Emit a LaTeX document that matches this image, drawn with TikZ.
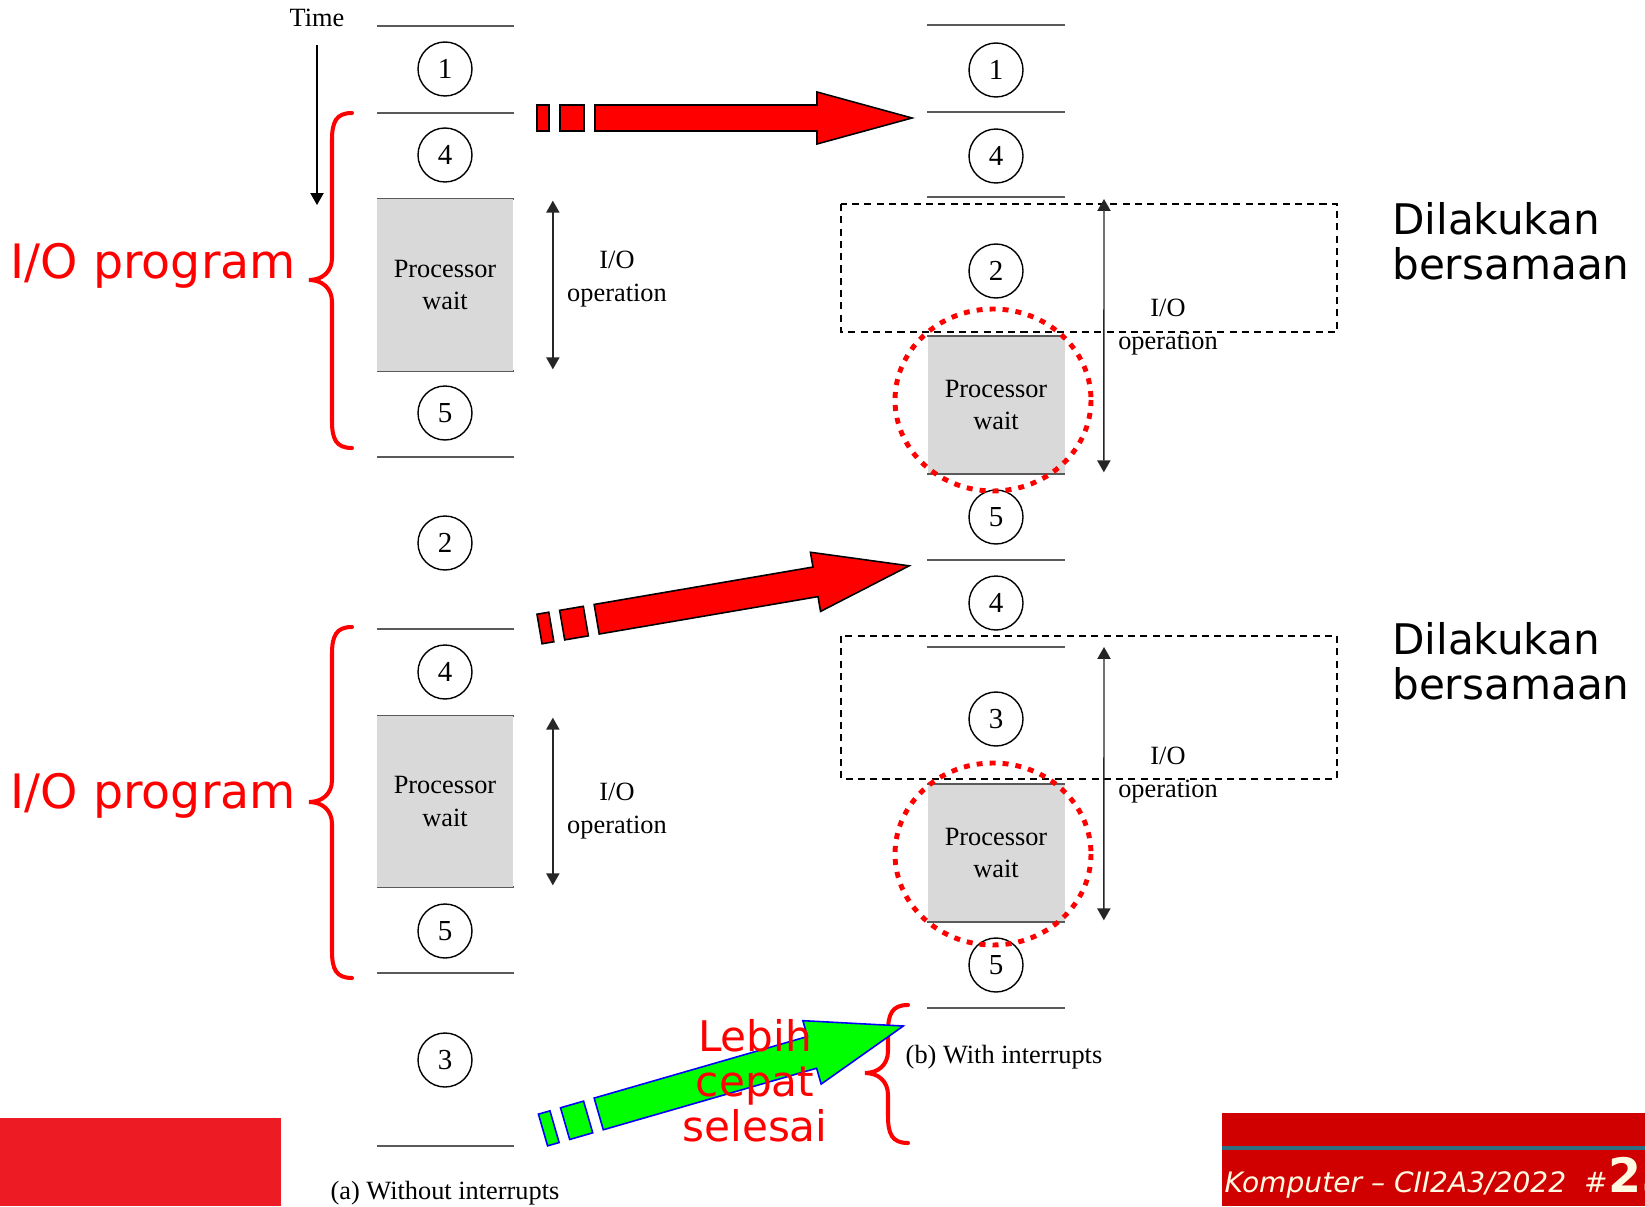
\documentclass[tikz,border=0pt]{standalone}
\usepackage{fontspec}
\setmainfont{Liberation Serif}
\newfontfamily\handfont{DejaVu Sans}
\newfontfamily\footfont{DejaVu Sans}
\usetikzlibrary{positioning,arrows.meta,calc}
\definecolor{slred}{RGB}{255,0,0}
\definecolor{slgreen}{RGB}{0,255,0}
\definecolor{slblue}{RGB}{0,0,255}
\definecolor{slgray}{RGB}{217,217,217}
\definecolor{slline}{RGB}{90,90,90}
\definecolor{ftred}{RGB}{237,28,36}
\definecolor{ftdark}{RGB}{208,0,0}
\definecolor{ftteal}{RGB}{47,110,128}
\definecolor{ftcream}{RGB}{255,250,225}
\tikzset{
  num/.style={draw, circle, minimum size=1.08cm, inner sep=0pt, line width=0.8pt, font=\fontsize{16.5}{16.5}\selectfont},
  seg/.style={draw=slline, line width=1.3pt},
  pwbox/.style={fill=slgray, minimum width=2.74cm, align=center, inner sep=0pt, font=\fontsize{15}{18.5}\selectfont},
  iolab/.style={align=center, font=\fontsize{15}{19}\selectfont},
  ioarrow/.style={{Triangle[length=6.8pt,width=7.5pt]}-{Triangle[length=6.8pt,width=7.5pt]}, line width=0.8pt, draw=black!85},
  dashbox/.style={draw, dash pattern=on 4pt off 3pt, line width=0.8pt},
  ring/.style={draw=slred, line width=2.8pt, dash pattern=on 3.4pt off 4pt},
  brace/.style={draw=slred, line width=2.3pt, line cap=round},
  hand/.style={anchor=east, text=slred, font=\handfont\fontsize{27}{30}\selectfont},
  note/.style={align=left, anchor=west, font=\handfont\fontsize{24}{25.6}\selectfont}
}
% block arrow: start, angle, half body height, fill, border
\newcommand{\blockarrow}[5]{%
  \begin{scope}[shift={#1}, rotate=#2]
    \filldraw[fill=#4, draw=#5, line width=0.9pt] (0,-#3) rectangle (12,#3);
    \filldraw[fill=#4, draw=#5, line width=0.9pt] (23,-#3) rectangle (47,#3);
    \filldraw[fill=#4, draw=#5, line width=0.9pt] (58,-#3) -- (280,-#3) -- (280,{-2*#3}) -- (375,0)
      -- (280,{2*#3}) -- (280,#3) -- (58,#3) -- cycle;
  \end{scope}}
% red brace: end x, top y, middle y, bottom y
\newcommand{\redbrace}[4]{%
  \draw[brace] (#1,#2) .. controls ({#1-16},#2) and ({#1-20},{#2+9}) .. ({#1-20},{#2+27})
    -- ({#1-20},{#3-22}) .. controls ({#1-20},{#3-8}) and ({#1-30},#3) .. ({#1-43},#3)
    .. controls ({#1-30},#3) and ({#1-20},{#3+8}) .. ({#1-20},{#3+22})
    -- ({#1-20},{#4-27}) .. controls ({#1-20},{#4-9}) and ({#1-16},#4) .. (#1,#4);}

\begin{document}
\begin{tikzpicture}[x=0.02cm, y=-0.02cm]
  \path[fill=white, use as bounding box] (0,0) rectangle (1645,1206);

  % footer
  \fill[ftred] (0,1118) rectangle (281,1206);
  \fill[ftdark] (1222,1113) rectangle (1645,1206);
  \fill[ftteal] (1222,1146) rectangle (1645,1150);
  \begin{scope}
    \clip (1222,1113) rectangle (1645,1206);
    \node[anchor=base east, inner sep=0pt, text=ftcream, font=\footfont\itshape\fontsize{16}{16}\selectfont] (ftr) at (1608,1192) {Komputer – CII2A3/2022\ \ \#};
    \node[anchor=base west, inner sep=0pt, text=ftcream, font=\footfont\bfseries\fontsize{27}{27}\selectfont] (pg) at (ftr.base east) {25};
  \end{scope}

  % (a) without interrupts
  \node[font=\fontsize{15}{15}\selectfont] (time) at (317,18) {Time};
  \coordinate (tend) at (317,205);
  \draw[-{Triangle[length=6.8pt,width=7.5pt]}, line width=0.8pt, shorten <=7pt] (time.south) -- (tend);
  \foreach \y in {26,113,199,371,457,629,716,887,973,1146}
    \draw[seg] (377,\y) -- (514,\y);
  \node[pwbox, minimum height=3.44cm] (apw1) at (445,285) {Processor\\wait};
  \node[pwbox, minimum height=3.42cm] (apw2) at (445,801.5) {Processor\\wait};
  \node[num] (a1) at (445,69) {1};
  \node[num] (a4) at (445,155) {4};
  \node[num] (a5) at (445,413) {5};
  \node[num] (a2) at (445,543) {2};
  \node[num] (a4b) at (445,672) {4};
  \node[num] (a5b) at (445,931) {5};
  \node[num] (a3) at (445,1060) {3};
  \draw[ioarrow] ($(apw1.north east)+(39,2)$) -- ($(apw1.south east)+(39,-2)$);
  \draw[ioarrow] ($(apw2.north east)+(39,2)$) -- ($(apw2.south east)+(39,-2)$);
  \node[iolab] (aio1) at (617,279) {I/O\\operation};
  \node[iolab] (aio2) at (617,811) {I/O\\operation};
  \node[font=\fontsize{15}{15}\selectfont] (capa) at (445,1193) {(a) Without interrupts};

  % (b) with interrupts
  \draw[dashbox] (841,204) rectangle (1337,332);
  \draw[dashbox] (841,636) rectangle (1337,779);
  \foreach \y in {25,112,197,336,474,560,647,784,922,1008}
    \draw[seg] (927,\y) -- (1065,\y);
  \node[pwbox, minimum height=2.76cm] (bpw1) at (996,405) {Processor\\wait};
  \node[pwbox, minimum height=2.76cm] (bpw2) at (996,853) {Processor\\wait};
  \draw[seg] (927,336) -- (1065,336) (927,474) -- (1065,474) (927,784) -- (1065,784) (927,922) -- (1065,922);
  \node[num] (b1) at (996,70) {1};
  \node[num] (b4) at (996,156) {4};
  \node[num] (b2) at (996,271) {2};
  \node[num] (b5) at (996,517) {5};
  \node[num] (b4b) at (996,603) {4};
  \node[num] (b3) at (996,719) {3};
  \node[num] (b5b) at (996,965) {5};
  \coordinate (bio1t) at (1104,199);
  \coordinate (bio2t) at (1104,647);
  \draw[ioarrow] (bio1t) -- ($(bpw1.south east)+(39,-2)$);
  \draw[ioarrow] (bio2t) -- ($(bpw2.south east)+(39,-2)$);
  \node[iolab] (bio1) at (1168,327) {I/O\\operation};
  \node[iolab] (bio2) at (1168,775) {I/O\\operation};
  \node[font=\fontsize{15}{15}\selectfont] (capb) at (1004,1057) {(b) With interrupts};
  \draw[ring] (bpw1.center) ++(-3,-5) ellipse [x radius=98, y radius=91];
  \draw[ring] (bpw2.center) ++(-3,1) ellipse [x radius=98, y radius=91];

  % notes
  \redbrace{352}{113}{280}{448}
  \redbrace{352}{627}{802}{978}
  \redbrace{908}{1005}{1073}{1143}
  \node[hand] (iop1) at (302,266) {I/O program};
  \node[hand] (iop2) at (302,796) {I/O program};
  \node[note] (same1) at (1386,241) {Dilakukan\\bersamaan};
  \node[note] (same2) at (1386,661) {Dilakukan\\bersamaan};

  % block arrows
  \blockarrow{(537,118)}{0}{13}{slred}{black}
  \blockarrow{(539.5,629)}{9.7}{15}{slred}{black}
  \blockarrow{(543,1130)}{16.1}{16.5}{slgreen}{slblue}
  \node[align=center, text=slred, font=\handfont\fontsize{24}{25.6}\selectfont] (fast) at (755,1081) {Lebih\\cepat\\selesai};
\end{tikzpicture}
\end{document}
